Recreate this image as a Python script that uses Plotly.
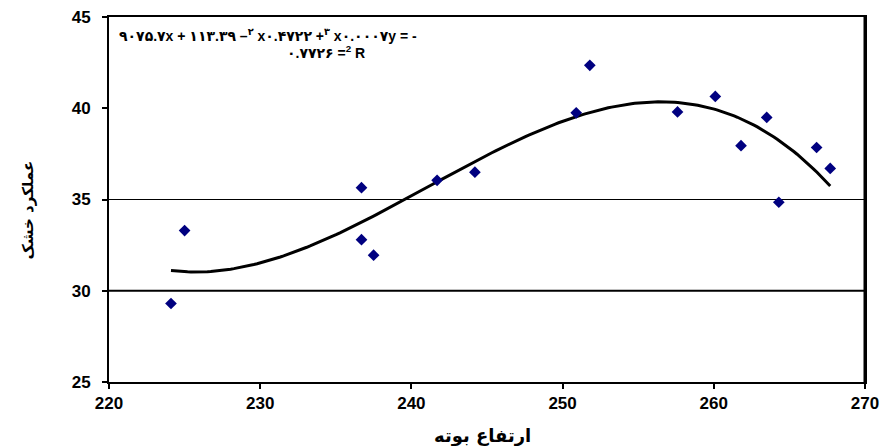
import numpy as np
import plotly.graph_objects as go

# Data
plant_height = [224.1, 225.0, 236.7, 236.7, 237.5, 241.7, 244.2, 250.9,
                251.8, 257.6, 260.1, 261.8, 263.5, 264.3, 266.8, 267.7]
dry_yield = [29.3, 33.3, 35.65, 32.8, 31.95, 36.05, 36.5, 39.75,
             42.35, 39.8, 40.65, 37.95, 39.5, 34.85, 37.85, 36.7]

x_ticks = [220, 230, 240, 250, 260, 270]
y_ticks = [25, 30, 35, 40, 45]
grid_lines = [30, 35]

x_title = "ارتفاع بوته"
y_title = "عملکرد خشک"
eq_line1 = "۹۰۷۵.۷x + ۱۱۳.۳۹ –<sup>۲</sup> x۰.۴۷۲۲ +<sup>۳</sup> x۰.۰۰۰۷y = -"
eq_line2 = "۰.۷۷۲۶ =<sup>2</sup> R"

# third-order polynomial trendline fitted to the points
coef = np.polyfit(plant_height, dry_yield, 3)
xs = np.linspace(min(plant_height), max(plant_height), 200)
ys = np.polyval(coef, xs)

FONT = "Liberation Sans, Arial, DejaVu Sans, sans-serif"

fig = go.Figure()
fig.add_trace(go.Scatter(x=xs, y=ys, mode="lines",
                         line=dict(color="black", width=3), hoverinfo="skip"))
fig.add_trace(go.Scatter(x=plant_height, y=dry_yield, mode="markers",
                         marker=dict(symbol="diamond", size=9, color="#000080")))

for g in grid_lines:
    fig.add_shape(type="line", xref="paper", x0=0, x1=1, yref="y", y0=g, y1=g,
                  line=dict(color="black", width=2 if g == 30 else 1.2), layer="below")

fig.update_layout(
    width=882, height=446,
    margin=dict(l=109, r=17, t=17, b=64),
    plot_bgcolor="white", paper_bgcolor="white",
    showlegend=False,
    font=dict(family=FONT, color="black"),
    xaxis=dict(range=[220, 270], tickvals=x_ticks, showgrid=False, zeroline=False,
               showline=True, linecolor="black", linewidth=2, mirror=True,
               automargin=False,
               ticks="outside", ticklen=5, tickwidth=1.5, tickcolor="black",
               tickfont=dict(size=17, family=FONT, weight="bold")),
    yaxis=dict(range=[25, 45], tickvals=y_ticks, showgrid=False, zeroline=False,
               showline=True, linecolor="black", linewidth=2, mirror=True,
               automargin=False,
               ticks="outside", ticklen=5, tickwidth=1.5, tickcolor="black",
               ticklabelstandoff=8,
               tickfont=dict(size=17, family=FONT, weight="bold")),
    annotations=[
        dict(text=eq_line1, xref="paper", yref="paper", x=0.011, y=0.951,
             xanchor="left", yanchor="middle", showarrow=False,
             font=dict(size=14, family=FONT, weight="bold")),
        dict(text=eq_line2, xref="paper", yref="paper", x=0.233, y=0.904,
             xanchor="left", yanchor="middle", showarrow=False,
             font=dict(size=14, family=FONT, weight="bold")),
        dict(text=x_title, xref="paper", yref="paper", x=0.494, y=-0.148,
             xanchor="center", yanchor="middle", showarrow=False,
             font=dict(size=18, family="DejaVu Sans", weight="bold")),
        dict(text=y_title, xref="paper", yref="paper", x=-0.107, y=0.47,
             xanchor="center", yanchor="middle", showarrow=False, textangle=-90,
             font=dict(size=15, family="DejaVu Sans", weight="bold")),
    ],
)
fig.add_shape(type="line", xref="paper", yref="paper", x0=1, x1=1, y0=0, y1=1,
              line=dict(color="black", width=3))

fig.write_html("out.html", config={"displayModeBar": False},
               post_script="document.body.style.margin='0';")
